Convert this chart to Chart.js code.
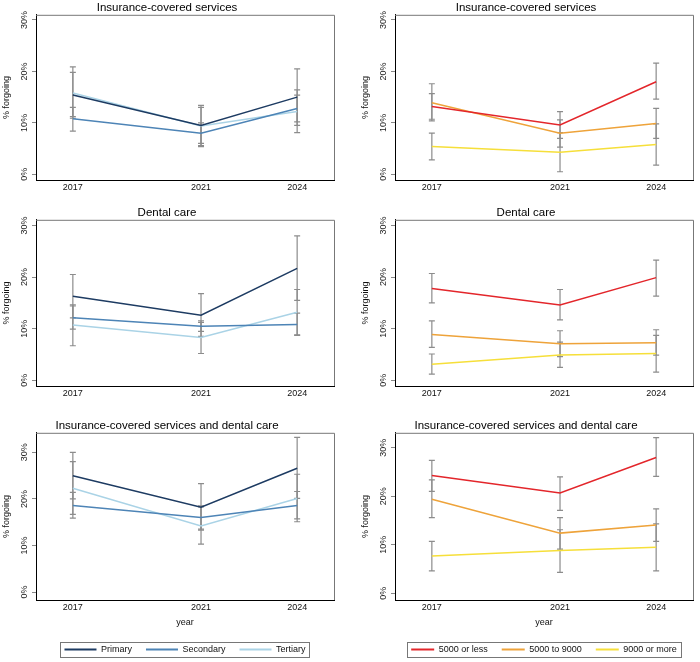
<!DOCTYPE html>
<html>
<head>
<meta charset="utf-8">
<script src="https://cdn.jsdelivr.net/npm/chart.js@4.4.0/dist/chart.umd.min.js"></script>
<style>
  body { margin: 0; background: #fff; }
  #wrap { position: relative; width: 700px; height: 662px; overflow: hidden; }
  canvas { position: absolute; }
</style>
</head>
<body>
<div id="wrap">
  <canvas id="c1" width="350" height="195" style="left:0;top:1px"></canvas>
  <canvas id="c2" width="350" height="195" style="left:350px;top:1px"></canvas>
  <canvas id="c3" width="350" height="196" style="left:0;top:206px"></canvas>
  <canvas id="c4" width="350" height="196" style="left:350px;top:206px"></canvas>
  <canvas id="c5" width="350" height="251" style="left:0;top:419px"></canvas>
  <canvas id="c6" width="350" height="251" style="left:350px;top:419px"></canvas>
</div>
<script>
// data
const years = [2017, 2021, 2024];
const yTicks = [0, 10, 20, 30];
const eduGroups = ['Primary', 'Secondary', 'Tertiary'];
const incGroups = ['5000 or less', '5000 to 9000', '9000 or more'];
const titles = ['Insurance-covered services', 'Dental care', 'Insurance-covered services and dental care'];

// insurance-covered services, by education
const insEduMean = [[15.4, 9.5, 15.0], [10.8, 8.0, 12.8], [15.8, 9.4, 12.2]];
const insEduLow  = [[11.2, 5.6, 9.5], [8.4, 6.0, 10.2], [10.9, 5.4, 8.1]];
const insEduHigh = [[19.8, 13.4, 20.5], [13.0, 10.0, 15.4], [20.9, 13.0, 16.4]];
// insurance-covered services, by income
const insIncMean = [[13.2, 9.6, 18.0], [13.9, 8.0, 9.9], [5.4, 4.3, 5.8]];
const insIncLow  = [[10.7, 7.0, 14.6], [10.4, 5.3, 7.0], [2.8, 0.5, 1.8]];
const insIncHigh = [[15.7, 12.2, 21.6], [17.6, 10.6, 12.8], [8.0, 8.1, 9.8]];
// dental care, by education
const denEduMean = [[16.3, 12.6, 21.7], [12.1, 10.5, 10.8], [10.7, 8.3, 13.2]];
const denEduLow  = [[12.1, 8.5, 15.5], [9.9, 9.5, 8.7], [6.7, 5.2, 8.8]];
const denEduHigh = [[20.5, 16.8, 28.0], [14.4, 11.5, 13.0], [14.6, 11.2, 17.6]];
// dental care, by income
const denIncMean = [[17.8, 14.6, 19.9], [8.9, 7.1, 7.3], [3.1, 4.9, 5.2]];
const denIncLow  = [[15.0, 11.7, 16.3], [6.4, 4.6, 4.9], [1.2, 2.5, 1.6]];
const denIncHigh = [[20.7, 17.6, 23.3], [11.5, 9.6, 9.8], [5.1, 7.4, 8.7]];
// both, by education
const bothEduMean = [[25.0, 18.2, 26.6], [18.6, 16.0, 18.6], [22.3, 14.2, 20.1]];
const bothEduLow  = [[20.0, 13.3, 20.1], [15.9, 13.5, 15.7], [16.7, 10.3, 15.1]];
const bothEduHigh = [[30.0, 23.3, 33.2], [21.4, 18.5, 21.6], [28.0, 18.3, 25.3]];
// both, by income
const bothIncMean = [[24.3, 20.7, 28.0], [19.4, 12.4, 14.1], [7.7, 8.8, 9.5]];
const bothIncLow  = [[21.0, 17.1, 24.1], [15.6, 9.1, 10.7], [4.6, 4.3, 4.6]];
const bothIncHigh = [[27.4, 24.0, 32.1], [23.4, 15.6, 17.4], [10.7, 13.1, 14.3]];

const eduColors = ['#1d3b62', '#4d84b6', '#aad3e6'];
const incColors = ['#e3262b', '#eea33a', '#f6df3a'];
const FONT = 'Liberation Sans, Arial, Helvetica, sans-serif';

// error bars, y tick labels, top/right frame, legend frame
const stataLook = {
  id: 'stataLook',
  beforeDatasetsDraw(chart) {
    const ctx = chart.ctx, xs = chart.scales.x, ys = chart.scales.y;
    ctx.save();
    ctx.strokeStyle = '#8c8c8c';
    ctx.lineWidth = 1.2;
    chart.data.datasets.forEach(ds => {
      ds.data.forEach((p, i) => {
        const x = xs.getPixelForValue(p.x);
        const y1 = ys.getPixelForValue(ds.errLow[i]);
        const y2 = ys.getPixelForValue(ds.errHigh[i]);
        ctx.beginPath();
        ctx.moveTo(x, y1); ctx.lineTo(x, y2);
        ctx.moveTo(x - 3, y1); ctx.lineTo(x + 3, y1);
        ctx.moveTo(x - 3, y2); ctx.lineTo(x + 3, y2);
        ctx.stroke();
      });
    });
    ctx.restore();
  },
  afterDraw(chart) {
    const ctx = chart.ctx, a = chart.chartArea, ys = chart.scales.y;
    ctx.save();
    ctx.strokeStyle = '#777';
    ctx.lineWidth = 1;
    ctx.beginPath();
    ctx.moveTo(a.left, a.top + 0.5); ctx.lineTo(a.right + 0.5, a.top + 0.5);
    ctx.lineTo(a.right + 0.5, a.bottom);
    ctx.stroke();
    ctx.fillStyle = '#222';
    ctx.font = '9px ' + FONT;
    ctx.textAlign = 'center';
    ctx.textBaseline = 'middle';
    yTicks.forEach(v => {
      ctx.save();
      ctx.translate(a.left - 11, ys.getPixelForValue(v));
      ctx.rotate(-Math.PI / 2);
      ctx.fillText(v + '%', 0, 0);
      ctx.restore();
    });
    const lg = chart.legend;
    if (lg && lg.options.display && lg.legendHitBoxes.length) {
      const hb = lg.legendHitBoxes;
      const l = Math.min(...hb.map(h => h.left)) - 4;
      const r = Math.max(...hb.map(h => h.left + h.width)) + 4;
      const t = hb[0].top - 3;
      ctx.strokeStyle = '#777';
      ctx.strokeRect(Math.round(l) + 0.5, Math.round(t) + 0.5, Math.round(r - l), 15);
    }
    ctx.restore();
  }
};

function makePanel(id, title, groups, colors, mean, low, high, yMin, yMax, right, bottom) {
  const datasets = groups.map((g, k) => ({
    label: g,
    data: years.map((yr, i) => ({ x: yr, y: mean[k][i] })),
    errLow: low[k],
    errHigh: high[k],
    borderColor: colors[k],
    backgroundColor: colors[k],
    borderWidth: 1.5,
    pointRadius: 0,
    tension: 0,
    fill: false
  }));
  return new Chart(document.getElementById(id), {
    type: 'line',
    data: { datasets },
    plugins: [stataLook],
    options: {
      responsive: false,
      animation: false,
      layout: { padding: right ? { left: 9, right: 7, top: 0, bottom: bottom ? 6 : 0 }
                              : { left: 0, right: 16, top: 0, bottom: bottom ? 6 : 0 } },
      plugins: {
        title: {
          display: true, text: title, color: '#000',
          font: { family: FONT, size: 11.5, weight: 'normal' },
          padding: { top: 0, bottom: 0 }
        },
        legend: {
          display: bottom,
          position: 'bottom',
          fullSize: false,
          labels: {
            color: '#111',
            font: { family: FONT, size: 9 },
            boxWidth: right ? 23 : 32,
            boxHeight: 2,
            padding: 14,
            generateLabels: c => Chart.defaults.plugins.legend.labels.generateLabels(c)
              .map(l => Object.assign(l, { lineWidth: 0, fillStyle: l.strokeStyle }))
          }
        },
        tooltip: { enabled: false }
      },
      scales: {
        x: {
          type: 'linear',
          min: 2015.85,
          max: 2025.15,
          afterBuildTicks: s => { s.ticks = years.map(v => ({ value: v })); },
          afterFit: s => { s.height = bottom ? 31 : 16; },
          ticks: {
            color: '#111', padding: 2,
            font: { family: FONT, size: 9 },
            callback: v => String(v)
          },
          grid: { display: false, drawTicks: false },
          border: { display: true, color: '#000', width: 1 },
          title: {
            display: bottom, text: 'year', color: '#111',
            font: { family: FONT, size: 9 },
            padding: { top: 0, bottom: 3 }
          }
        },
        y: {
          min: yMin,
          max: yMax,
          afterBuildTicks: s => { s.ticks = yTicks.map(v => ({ value: v })); },
          afterFit: s => { s.width = 36; },
          ticks: { display: false },
          grid: { display: true, drawOnChartArea: false, drawTicks: true, tickLength: 4, color: '#888' },
          border: { display: true, color: '#000', width: 1 },
          title: {
            display: true, text: '% forgoing', color: '#111',
            font: { family: FONT, size: 9 },
            padding: { top: 1, bottom: 0 }
          }
        }
      }
    }
  });
}

makePanel('c1', titles[0], eduGroups, eduColors, insEduMean, insEduLow, insEduHigh, -1.1, 31.0, false, false);
makePanel('c2', titles[0], incGroups, incColors, insIncMean, insIncLow, insIncHigh, -1.1, 31.0, true, false);
makePanel('c3', titles[1], eduGroups, eduColors, denEduMean, denEduLow, denEduHigh, -1.1, 31.1, false, false);
makePanel('c4', titles[1], incGroups, incColors, denIncMean, denIncLow, denIncHigh, -1.1, 31.1, true, false);
makePanel('c5', titles[2], eduGroups, eduColors, bothEduMean, bothEduLow, bothEduHigh, -1.7, 34.2, false, true);
makePanel('c6', titles[2], incGroups, incColors, bothIncMean, bothIncLow, bothIncHigh, -1.4, 33.1, true, true);
</script>
</body>
</html>
